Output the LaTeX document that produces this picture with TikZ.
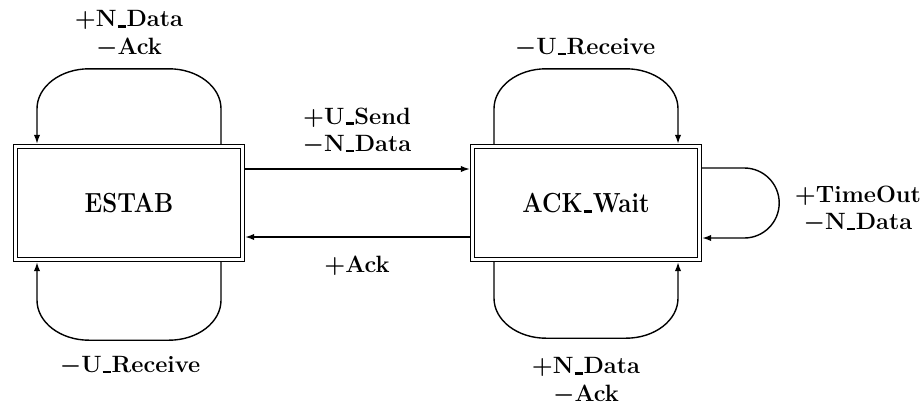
\documentclass[tikz,border=0pt]{standalone}
\usepackage{graphicx}
\usetikzlibrary{arrows.meta,calc}
\newcommand\lblfont{\fontsize{11.8}{13.6}\selectfont\bfseries\boldmath}
\newcommand\stfont{\fontsize{12}{14}\selectfont\bfseries}
\newcommand\usc{\kern0.04em\rule[-0.03em]{0.34em}{0.1em}\kern0.04em}
\newcommand\vs[1]{\scalebox{1}[1.15]{#1}}
\begin{document}
\begin{tikzpicture}[x=0.5pt,y=-0.5pt,
  state/.style={draw, double, line width=0.75pt, double distance=1.2pt,
    minimum width=113.5pt, minimum height=56.5pt, inner sep=0pt, outer sep=1.35pt, font=\stfont},
  conn/.style={line width=0.7pt, -{Latex[length=4.5pt,width=3.2pt]}},
  ex/.style={x radius=26pt, y radius=20pt},
  lab/.style={align=center, font=\lblfont, inner sep=0pt}]
\useasboundingbox (0,0) rectangle (924,407);
\node[state] (estab) at (129,203) {\vs{ESTAB}};
\node[state] (ack) at (586,203) {\vs{ACK\usc Wait}};
% between boxes
\draw[conn] ([yshift=17pt]estab.east) -- ([yshift=17pt]ack.west);
\draw[conn] ([yshift=-17pt]ack.west) -- ([yshift=-17pt]estab.east);
% ESTAB loops
\draw[conn] ([xshift=46pt]estab.north) -- ++(0,-35) arc[start angle=0, end angle=90, ex] -- ++(-80,0)
  arc[start angle=90, end angle=180, ex] -- ([xshift=-46pt]estab.north);
\draw[conn] ([xshift=46pt]estab.south) -- ++(0,38) arc[start angle=0, end angle=-90, ex] -- ++(-80,0)
  arc[start angle=-90, end angle=-180, ex] -- ([xshift=-46pt]estab.south);
% ACK loops
\draw[conn] ([xshift=-46pt]ack.north) -- ++(0,-35) arc[start angle=180, end angle=90, ex] -- ++(80,0)
  arc[start angle=90, end angle=0, ex] -- ([xshift=46pt]ack.north);
\draw[conn] ([xshift=-46pt]ack.south) -- ++(0,36) arc[start angle=180, end angle=270, ex] -- ++(80,0)
  arc[start angle=270, end angle=360, ex] -- ([xshift=46pt]ack.south);
% self loop
\draw[conn] ([yshift=17.5pt]ack.east) -- ++(42,0) arc[start angle=90, end angle=-90, radius=17.5pt] -- ([yshift=-17.5pt]ack.east);
% labels
\node[lab] (l1) at (129,34) {$+$N\usc Data\\$-$Ack};
\node[lab] (l2) at (130,366) {$-$U\usc Receive};
\node[lab] (l3) at (357,131) {$+$U\usc Send\\$-$N\usc Data};
\node[lab] (l4) at (357,266) {$+$Ack};
\node[lab] (l5) at (585,48) {$-$U\usc Receive};
\node[lab] (l6) at (586,381) {$+$N\usc Data\\$-$Ack};
\node[lab] (l7) at (858,209) {$+$TimeOut\\$-$N\usc Data};
\end{tikzpicture}
\end{document}
